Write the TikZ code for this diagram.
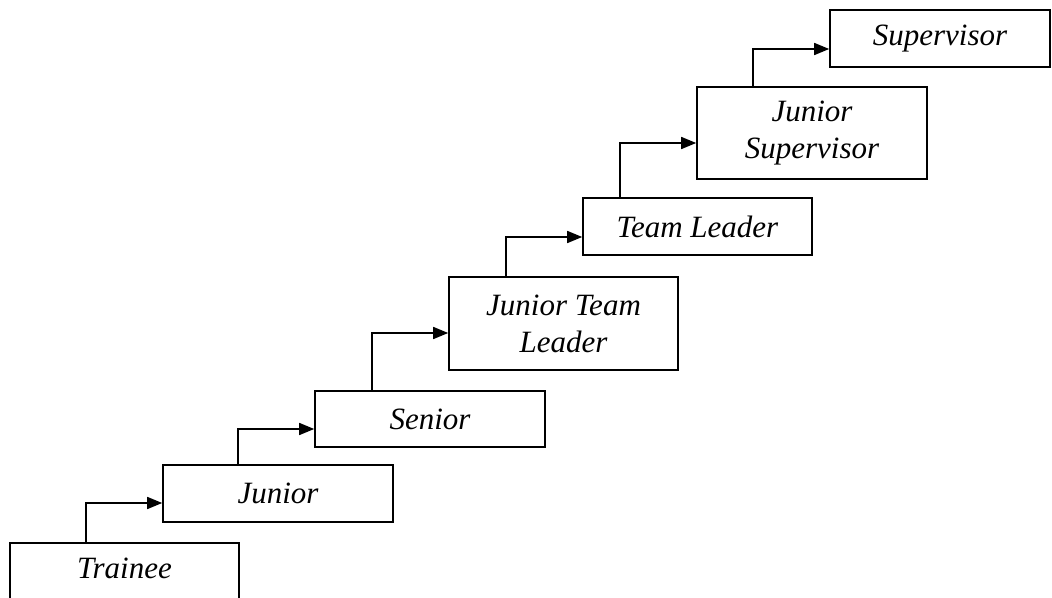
\documentclass[tikz,border=0pt]{standalone}
\usepackage{fontspec}
\setmainfont{Liberation Serif}[ItalicFont={Liberation Serif Italic}]
\usetikzlibrary{arrows.meta}
\begin{document}
\begin{tikzpicture}[x=1pt,y=-1pt,
  stepbox/.style={draw, line width=1.6pt, inner sep=0pt, align=center,
    font=\fontsize{31}{37}\selectfont\itshape},
  arr/.style={line width=1.6pt, -{Triangle[length=15pt,width=12pt]}}]
\useasboundingbox (0,0) rectangle (1052,597);
\node[stepbox, minimum width=229pt, text height=36pt, text depth=40pt, anchor=north] (trainee) at (124.5,542) {Trainee};
\node[stepbox, minimum width=230pt, minimum height=57pt] (junior) at (278,493.5) {Junior};
\node[stepbox, minimum width=230pt, minimum height=56pt] (senior) at (430,419) {Senior};
\node[stepbox, minimum width=229pt, minimum height=93pt] (jtl) at (563.5,323.5) {Junior Team\\Leader};
\node[stepbox, minimum width=229pt, minimum height=57pt] (tl) at (697.5,226.5) {Team Leader};
\node[stepbox, minimum width=230pt, minimum height=92pt] (js) at (812,133) {Junior\\Supervisor};
\node[stepbox, minimum width=220pt, minimum height=57pt] (sup) at (940,38.5) {Supervisor};
\draw[arr] ([xshift=77pt]trainee.north west) |- ([yshift=-9.5pt]junior.west);
\draw[arr] ([xshift=76pt]junior.north west) |- ([yshift=-10pt]senior.west);
\draw[arr] ([xshift=58pt]senior.north west) |- ([yshift=-9.5pt]jtl.west);
\draw[arr] ([xshift=58pt]jtl.north west) |- ([yshift=-10.5pt]tl.west);
\draw[arr] ([xshift=38pt]tl.north west) |- ([yshift=-10pt]js.west);
\draw[arr] ([xshift=57pt]js.north west) |- ([yshift=-10.5pt]sup.west);
\end{tikzpicture}
\end{document}
